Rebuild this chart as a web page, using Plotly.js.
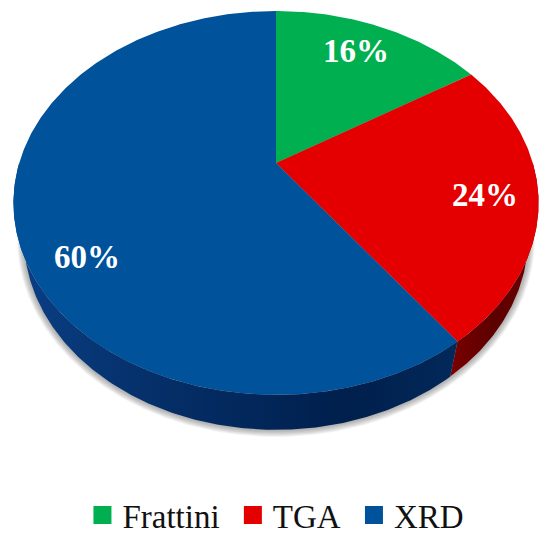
<!DOCTYPE html>
<html><head><meta charset="utf-8">
<script src="https://cdn.plot.ly/plotly-3.0.1.min.js"></script>
<style>html,body{margin:0;padding:0;background:#fff}#c{width:550px;height:543px}</style>
</head><body><div id="c"></div>
<script>
const categories = ['Frattini', 'TGA', 'XRD'];
const shares = [16, 24, 60];
const faceColors = ['#00b050', '#e40000', '#00529b'];
const sideScales = [
  null,
  [[0, '#7a0000'], [0.5, '#5c0000'], [1, '#6e0000']],
  [[0, '#0a3f85'], [0.3, '#05306a'], [0.75, '#001f4c'], [1, '#02295a']]
];
const labelSpots = [[356, 51], [485, 195], [87, 257]];

// Perspective disc: unit circle projected into page units
const CX = 276, CY = 163, RX = 256.8, RY = 183.6, K = 0.208, DEPTH = 35, RIM = 0.96;
function faceAt(t) {
  const u = Math.sin(t), v = Math.cos(t), w = 1 + K * v;
  return [CX + RX * u / w, CY - RY * v / w];
}
function rimAt(t, grow) {
  const p = faceAt(t);
  const g = grow || 0;
  return [CX + (p[0] - CX) * RIM + g * Math.sin(t), p[1] + DEPTH - g * Math.cos(t)];
}
function arc(fn, a, b, arg) {
  const n = Math.max(2, Math.ceil(Math.abs(b - a) / 0.01)), out = [];
  for (let i = 0; i <= n; i++) out.push(fn(a + (b - a) * i / n, arg));
  return out;
}
const total = shares.reduce((s, v) => s + v, 0);
const edges = [0];
shares.forEach(v => edges.push(edges[edges.length - 1] + v / total * 2 * Math.PI));

const traces = [];
function poly(pts, extra) {
  traces.push(Object.assign({
    type: 'scatter', mode: 'lines', x: pts.map(p => p[0]), y: pts.map(p => p[1]),
    fill: 'toself', line: {width: 0}, hoverinfo: 'skip', showlegend: false
  }, extra));
}
// soft shadow under the rim
[7, 6, 5, 4, 3, 2, 1].forEach(g => {
  poly(arc(rimAt, 0, 2 * Math.PI, g), {fillcolor: 'rgba(70,70,70,0.07)'});
});
// visible side walls: split where the slices meet the front of the rim
const rightLimit = Math.PI / 2, leftLimit = 1.5 * Math.PI;
[[rightLimit, edges[2], 1], [edges[2], leftLimit, 2]].forEach(([a, b, i]) => {
  const pts = arc(faceAt, a, b).concat(arc(rimAt, b, a));
  poly(pts, {fillcolor: faceColors[i],
    fillgradient: {type: 'horizontal', colorscale: sideScales[i]}});
});
// top faces
shares.forEach((v, i) => {
  const pts = [[CX, CY]].concat(arc(faceAt, edges[i], edges[i + 1]));
  pts.push([CX, CY]);
  poly(pts, {fillcolor: faceColors[i]});
});
// legend keys
categories.forEach((name, i) => {
  traces.push({type: 'scatter', mode: 'markers', x: [-50], y: [-50], name: name + '\u00a0',
    marker: {symbol: 'square', size: 16, color: faceColors[i], line: {width: 2, color: faceColors[i]}},
    hoverinfo: 'skip', showlegend: true});
});

const layout = {
  width: 550, height: 543, margin: {l: 0, r: 0, t: 0, b: 0},
  paper_bgcolor: '#fff', plot_bgcolor: '#fff', showlegend: true,
  xaxis: {range: [0, 550], visible: false, fixedrange: true},
  yaxis: {range: [543, 0], visible: false, fixedrange: true},
  legend: {orientation: 'h', x: 0.509, xanchor: 'center', y: 0, yanchor: 'bottom',
    font: {family: '"Liberation Serif", serif', size: 33, color: '#111'},
    bgcolor: 'rgba(0,0,0,0)', itemclick: false, itemdoubleclick: false},
  annotations: shares.map((v, i) => ({
    x: labelSpots[i][0], y: labelSpots[i][1], xref: 'x', yref: 'y', showarrow: false,
    text: '<b>' + v + '%</b>',
    font: {family: '"Liberation Serif", serif', size: 33, color: '#fff'}
  }))
};
Plotly.newPlot('c', traces, layout, {displayModeBar: false, staticPlot: true});
</script></body></html>
